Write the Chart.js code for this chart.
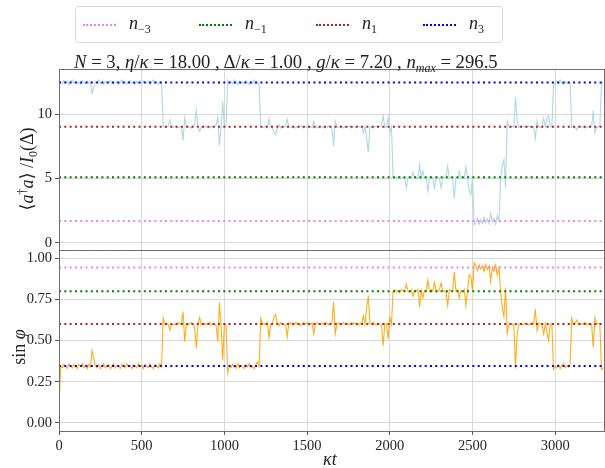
<!DOCTYPE html>
<html>
<head>
<meta charset="utf-8">
<script src="https://cdn.jsdelivr.net/npm/chart.js@4"></script>
<style>
  html,body{margin:0;padding:0;background:#fff;}
  #wrap{position:relative;width:605px;height:468px;overflow:hidden;font-family:"Liberation Serif","DejaVu Serif",serif;color:#222;}
  canvas{position:absolute;left:0;top:0;}
  .txt{position:absolute;white-space:nowrap;}
  .rot{transform:translate(-50%,-50%) rotate(-90deg);}
  #legend{position:absolute;left:75px;top:6px;width:426px;height:35px;border:1px solid #d8d8d8;border-radius:4px;background:#fff;}
  .lg{position:absolute;top:0;height:35px;}
  .lg .smp{position:absolute;top:17px;width:33px;height:0;border-top:2px dotted;}
  .lg .lab{position:absolute;top:6px;font-size:18px;}
  sub{font-size:12px;vertical-align:-4px;}
  sup{font-size:12px;vertical-align:7px;}
</style>
</head>
<body>
<div id="wrap">
  <canvas id="cTop" width="605" height="468"></canvas>
  <canvas id="cBot" width="605" height="468"></canvas>
  <div id="legend"></div>
  <div class="txt" id="title" style="left:74px;top:51px;font-size:18.7px;"><i>N</i> = 3, <i>η</i>/<i>κ</i> = 18.00 , Δ/<i>κ</i> = 1.00 , <i>g</i>/<i>κ</i> = 7.20 , <i>n</i><sub><i>max</i></sub> = 296.5</div>
  <div class="txt rot" style="left:28px;top:169px;font-size:18px;">⟨<i>a</i><sup>†</sup><i>a</i>⟩ /<i>I</i><sub>0</sub>(Δ)</div>
  <div class="txt rot" style="left:19px;top:347px;font-size:18px;">sin <i>φ</i></div>
  <div class="txt" style="left:323px;top:449px;font-size:18px;"><i>κt</i></div>
</div>
<script>
// ---- data ----
const kappaT = [
0,10,20,30,40,50,60,70,80,90,100,110,120,130,140,150,160,170,180,190,
200,210,220,230,240,250,260,270,280,290,300,310,320,330,340,350,360,370,380,390,
400,410,420,430,440,450,460,470,480,490,500,510,520,530,540,550,560,570,580,590,
600,610,620,630,640,650,660,670,680,690,700,710,720,730,740,750,760,770,780,790,
800,810,820,830,840,850,860,870,880,890,900,910,920,930,940,950,960,970,980,990,
1000,1010,1020,1030,1040,1050,1060,1070,1080,1090,1100,1110,1120,1130,1140,1150,1160,1170,1180,1190,
1200,1210,1220,1230,1240,1250,1260,1270,1280,1290,1300,1310,1320,1330,1340,1350,1360,1370,1380,1390,
1400,1410,1420,1430,1440,1450,1460,1470,1480,1490,1500,1510,1520,1530,1540,1550,1560,1570,1580,1590,
1600,1610,1620,1630,1640,1650,1660,1670,1680,1690,1700,1710,1720,1730,1740,1750,1760,1770,1780,1790,
1800,1810,1820,1830,1840,1850,1860,1870,1880,1890,1900,1910,1920,1930,1940,1950,1960,1970,1980,1990,
2000,2010,2020,2030,2040,2050,2060,2070,2080,2090,2100,2110,2120,2130,2140,2150,2160,2170,2180,2190,
2200,2210,2220,2230,2240,2250,2260,2270,2280,2290,2300,2310,2320,2330,2340,2350,2360,2370,2380,2390,
2400,2410,2420,2430,2440,2450,2460,2470,2480,2490,2500,2510,2520,2530,2540,2550,2560,2570,2580,2590,
2600,2610,2620,2630,2640,2650,2660,2670,2680,2690,2700,2710,2720,2730,2740,2750,2760,2770,2780,2790,
2800,2810,2820,2830,2840,2850,2860,2870,2880,2890,2900,2910,2920,2930,2940,2950,2960,2970,2980,2990,
3000,3010,3020,3030,3040,3050,3060,3070,3080,3090,3100,3110,3120,3130,3140,3150,3160,3170,3180,3190,
3200,3210,3220,3230,3240,3250,3260,3270,3280,3290
];
const photonNumber = [
12.3,12.55,12.4,12.65,12.45,12.6,12.35,12.55,12.7,12.45,
12.6,12.4,12.55,12.35,12.65,12.5,12.4,12.6,12.45,12.55,
11.67,12.1,12.6,12.45,12.7,12.4,12.55,12.35,12.6,12.5,
12.45,12.65,12.4,12.55,12.45,12.6,12.35,12.55,12.7,12.45,
12.6,12.4,12.55,12.65,12.45,12.5,12.35,12.6,12.45,12.55,
12.4,12.65,12.5,12.45,12.6,12.35,12.55,12.7,12.45,12.6,
12.4,12.55,12.5,9.1,9.0,9.05,9.1,9.6,9.05,9.0,
9.05,9.1,8.95,9.05,9.0,7.98,9.76,9.05,9.1,9.0,
8.95,9.05,9.3,10.36,9.0,8.7,9.05,8.95,9.1,9.0,
9.05,8.95,9.1,9.0,9.05,9.2,9.76,7.59,9.1,11.0,
9.0,9.1,12.7,12.45,12.6,12.4,12.7,12.5,12.35,12.6,
12.45,12.55,12.4,12.65,12.5,12.35,12.6,12.45,12.7,12.4,
12.55,12.3,9.1,9.0,9.05,9.1,8.95,9.7,9.05,9.0,
8.6,8.45,9.05,9.2,8.95,9.05,9.0,9.1,9.63,9.0,
9.05,9.0,9.1,8.95,9.05,9.0,9.15,9.05,8.95,9.05,
9.0,9.1,9.05,9.0,9.5,9.05,8.95,9.05,9.1,9.0,
9.05,8.95,9.0,9.1,9.05,9.0,7.54,9.5,9.05,9.0,
9.1,9.05,8.95,9.05,9.0,9.1,9.05,8.95,9.05,9.0,
9.05,9.1,9.0,9.05,8.6,9.05,8.1,7.07,9.0,9.05,
8.95,9.05,9.1,9.0,9.05,9.2,9.9,9.0,9.05,9.76,
8.6,9.05,5.1,5.0,5.15,5.05,5.2,5.0,5.1,5.05,
4.27,5.1,5.15,5.0,5.5,5.05,5.1,5.0,6.1,5.05,
5.6,5.05,5.1,4.0,5.15,5.0,5.1,4.27,5.05,5.15,
5.0,4.27,5.1,5.05,5.2,5.95,5.0,5.1,5.05,3.48,
5.1,5.0,5.6,5.05,5.15,5.0,5.95,5.05,4.1,3.74,
5.1,1.4,1.6,1.9,1.45,1.8,1.5,2.0,1.55,1.85,
1.5,2.3,1.6,1.9,1.45,2.1,1.7,5.1,6.0,6.5,
4.3,9.5,9.05,9.0,9.1,9.05,11.4,9.5,9.0,9.05,
9.1,9.0,9.05,9.0,9.1,9.05,8.95,9.05,8.14,9.5,
9.05,9.0,9.1,9.7,9.05,9.76,9.9,9.05,9.1,12.3,
12.45,12.6,12.4,12.7,12.5,12.35,12.6,12.45,12.55,12.4,
9.0,9.05,9.0,8.8,9.05,9.1,9.0,9.05,8.95,9.05,
9.0,9.1,9.05,10.3,8.6,9.0,9.05,9.1,12.5,12.4
];
const sinPhi = [
0.11,0.345,0.335,0.355,0.34,0.33,0.36,0.345,0.335,0.355,
0.34,0.33,0.355,0.345,0.36,0.335,0.35,0.33,0.355,0.34,
0.438,0.39,0.345,0.335,0.355,0.33,0.35,0.36,0.335,0.345,
0.355,0.33,0.345,0.36,0.335,0.35,0.34,0.33,0.355,0.345,
0.335,0.36,0.34,0.35,0.33,0.355,0.345,0.335,0.36,0.34,
0.35,0.33,0.355,0.345,0.335,0.36,0.34,0.33,0.355,0.345,
0.335,0.36,0.34,0.635,0.6,0.605,0.6,0.564,0.6,0.595,
0.6,0.595,0.61,0.6,0.605,0.675,0.493,0.6,0.595,0.6,
0.61,0.6,0.58,0.452,0.6,0.64,0.595,0.605,0.6,0.6,
0.6,0.61,0.595,0.6,0.6,0.59,0.493,0.732,0.595,0.381,
0.6,0.595,0.304,0.35,0.335,0.355,0.34,0.33,0.36,0.335,
0.35,0.34,0.33,0.355,0.34,0.36,0.335,0.345,0.33,0.355,
0.37,0.345,0.635,0.6,0.605,0.595,0.61,0.52,0.6,0.605,
0.64,0.66,0.6,0.59,0.61,0.6,0.595,0.6,0.524,0.61,
0.6,0.605,0.595,0.61,0.6,0.605,0.59,0.6,0.61,0.6,
0.605,0.595,0.6,0.605,0.54,0.6,0.61,0.6,0.595,0.605,
0.6,0.61,0.605,0.595,0.6,0.605,0.736,0.54,0.6,0.605,
0.595,0.6,0.61,0.6,0.605,0.595,0.6,0.61,0.6,0.605,
0.6,0.595,0.605,0.6,0.651,0.6,0.696,0.773,0.605,0.6,
0.61,0.6,0.595,0.605,0.6,0.59,0.469,0.605,0.6,0.51,
0.64,0.6,0.80,0.81,0.795,0.805,0.79,0.81,0.8,0.805,
0.842,0.8,0.795,0.81,0.77,0.805,0.8,0.81,0.702,0.805,
0.76,0.805,0.8,0.868,0.795,0.81,0.8,0.854,0.805,0.795,
0.81,0.85,0.8,0.805,0.79,0.714,0.81,0.8,0.805,0.918,
0.8,0.81,0.76,0.805,0.795,0.81,0.714,0.805,0.9,0.89,
0.8,0.973,0.955,0.925,0.96,0.935,0.955,0.92,0.96,0.93,
0.955,0.86,0.945,0.92,0.96,0.9,0.94,0.8,0.70,0.645,
0.82,0.544,0.6,0.605,0.595,0.6,0.331,0.54,0.6,0.6,
0.595,0.6,0.605,0.6,0.595,0.6,0.61,0.6,0.69,0.56,
0.6,0.605,0.6,0.54,0.6,0.55,0.50,0.6,0.6,0.325,
0.345,0.335,0.355,0.33,0.35,0.36,0.335,0.35,0.34,0.355,
0.635,0.6,0.605,0.625,0.6,0.595,0.6,0.6,0.61,0.6,
0.6,0.595,0.6,0.459,0.64,0.6,0.605,0.6,0.325,0.335
];
const levelNames = ['n−3','n−1','n1','n3'];
const levelSubs = ['−3','−1','1','3'];
const levelColors = ['#ee82ee','#008000','#b22222','#0000ff'];
const photonLevels = [1.70, 5.10, 9.05, 12.50];
const sinLevels = [0.943, 0.80, 0.60, 0.345];
const xTicks = [0,500,1000,1500,2000,2500,3000];
const yTicksTop = [0,5,10];
const yTicksBot = [0,0.25,0.5,0.75,1.0];
const X_MAX = 3295;

// ---- legend (HTML text) ----
const legendX = [7, 123, 240, 347];
const lg = document.getElementById('legend');
levelNames.forEach((nm,i)=>{
  const d = document.createElement('div');
  d.className='lg'; d.style.left=legendX[i]+'px';
  d.innerHTML = '<div class="smp" style="border-color:'+levelColors[i]+'"></div>'+
    '<div class="lab" style="left:46px"><i>n</i><sub>'+levelSubs[i]+'</sub></div>';
  lg.appendChild(d);
});

const frame = {
  id:'frame',
  afterDatasetsDraw(chart){
    const a = chart.chartArea, c = chart.ctx;
    c.save(); c.strokeStyle='#6e6e6e'; c.lineWidth=1;
    c.strokeRect(Math.round(a.left)+0.5, Math.round(a.top)+0.5, Math.round(a.right-a.left), Math.round(a.bottom-a.top));
    c.restore();
  }
};
const tickFont = {family:'"Liberation Serif","DejaVu Serif",serif', size:14.5};
function refSets(levels){
  return levels.map((v,i)=>({
    label: levelNames[i],
    data: [{x:0,y:v},{x:X_MAX,y:v}],
    borderColor: levelColors[i], borderWidth: 2, borderDash:[2,3.3],
    pointRadius:0, order:0
  }));
}
function setTicks(arr){ return s => { s.ticks = arr.map(v=>({value:v})); }; }
const common = {
  animation:false, responsive:false, events:[],
  plugins:{legend:{display:false}, tooltip:{enabled:false}, title:{display:false}}
};

new Chart(document.getElementById('cTop'), {
  type:'line',
  data:{datasets:[...refSets(photonLevels), {
    label:'photon', data: kappaT.map((t,i)=>({x:t,y:photonNumber[i]})),
    borderColor:'#add8e6', borderWidth:1.1, pointRadius:0, order:1
  }]},
  options:{...common,
    layout:{padding:{top:69, right:1, bottom:218, left:0}},
    scales:{
      x:{type:'linear', min:0, max:X_MAX, afterBuildTicks:setTicks(xTicks),
         ticks:{display:false}, grid:{color:'#d9d9d9', drawTicks:false}, border:{display:false},
         afterFit:s=>{s.height=0;}},
      y:{type:'linear', min:-0.57, max:13.56, afterBuildTicks:setTicks(yTicksTop),
         ticks:{font:tickFont, color:'#262626', padding:3},
         grid:{color:'#d9d9d9', tickLength:4, tickColor:'#555'}, border:{display:false},
         afterFit:s=>{s.width=59;}}
    }
  },
  plugins:[frame]
});

new Chart(document.getElementById('cBot'), {
  type:'line',
  data:{datasets:[...refSets(sinLevels), {
    label:'sinphi', data: kappaT.map((t,i)=>({x:t,y:sinPhi[i]})),
    borderColor:'rgba(255,165,0,0.9)', borderWidth:1.1, pointRadius:0, order:1
  }]},
  options:{...common,
    layout:{padding:{top:250, right:1, bottom:0, left:0}},
    scales:{
      x:{type:'linear', min:0, max:X_MAX, afterBuildTicks:setTicks(xTicks),
         ticks:{font:tickFont, color:'#262626', padding:2, maxRotation:0, callback:v=>String(v)},
         grid:{color:'#d9d9d9', tickLength:4, tickColor:'#555'}, border:{display:false},
         afterFit:s=>{s.height=37;}},
      y:{type:'linear', min:-0.049, max:1.05, afterBuildTicks:setTicks(yTicksBot),
         ticks:{font:tickFont, color:'#262626', padding:3, callback:v=>v.toFixed(2)},
         grid:{color:'#d9d9d9', tickLength:4, tickColor:'#555'}, border:{display:false},
         afterFit:s=>{s.width=59;}}
    }
  },
  plugins:[frame]
});
</script>
</body>
</html>
